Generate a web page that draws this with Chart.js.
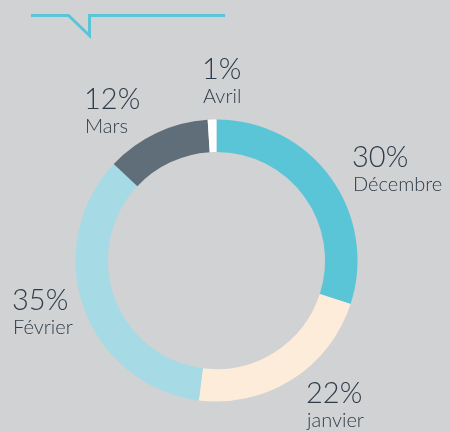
<!DOCTYPE html>
<html>
<head>
<meta charset="utf-8">
<script src="https://cdn.jsdelivr.net/npm/chart.js@4/dist/chart.umd.min.js"></script>
<style>
  html, body { margin: 0; padding: 0; background: #d1d2d4; }
  #wrap { position: relative; width: 450px; height: 432px; }
</style>
</head>
<body>
<div id="wrap"><canvas id="graficoMois" width="450" height="432"></canvas></div>
<script>
// donnees
var mois = ['Décembre', 'janvier', 'Février', 'Mars', 'Avril'];
var pourcentages = [30, 22, 35, 12, 1];

var couleurs = ['#5bc5d8', '#fdecd9', '#a6dbe6', '#5f6e78', '#ffffff'];
var couleurTexte = '#2e3c4a';
var couleurTrait = '#5bc5d8';

// position de chaque etiquette (x, ligne de base du pourcentage)
var posEtiquettes = [
	[352, 167],
	[306, 403],
	[12, 310],
	[84, 109],
	[202, 79]
];

var etiquettes = {
	id: 'etiquettes',
	afterDraw: function(chart) {
		var ctx = chart.ctx;
		ctx.save();
		// trait decoratif en haut
		ctx.strokeStyle = couleurTrait;
		ctx.lineWidth = 3;
		ctx.lineJoin = 'miter';
		ctx.beginPath();
		ctx.moveTo(31, 15.5);
		ctx.lineTo(68.5, 15.5);
		ctx.lineTo(89.5, 35.5);
		ctx.lineTo(89.5, 15.5);
		ctx.lineTo(225, 15.5);
		ctx.stroke();

		ctx.fillStyle = couleurTexte;
		ctx.textAlign = 'left';
		ctx.textBaseline = 'alphabetic';
		mois.forEach(function(m, i) {
			var p = posEtiquettes[i];
			ctx.font = '300 29px Lato, "DejaVu Sans", sans-serif';
			ctx.fillText(pourcentages[i] + '%', p[0], p[1]);
			ctx.font = '300 20px Lato, "DejaVu Sans", sans-serif';
			ctx.fillText(m, p[0] + 1, p[1] + 24);
		});
		ctx.restore();
	}
};

var graficoMois = new Chart(document.getElementById('graficoMois').getContext('2d'), {
	type: 'doughnut',
	data: {
		labels: mois,
		datasets: [{
			data: pourcentages,
			backgroundColor: couleurs,
			borderWidth: 0
		}]
	},
	options: {
		responsive: false,
		animation: false,
		cutout: '77%',
		layout: {
			padding: { left: 75.5, right: 92.5, top: 119.5, bottom: 30.5 }
		},
		plugins: {
			legend: { display: false },
			tooltip: { enabled: false }
		}
	},
	plugins: [etiquettes]
});
</script>
</body>
</html>
